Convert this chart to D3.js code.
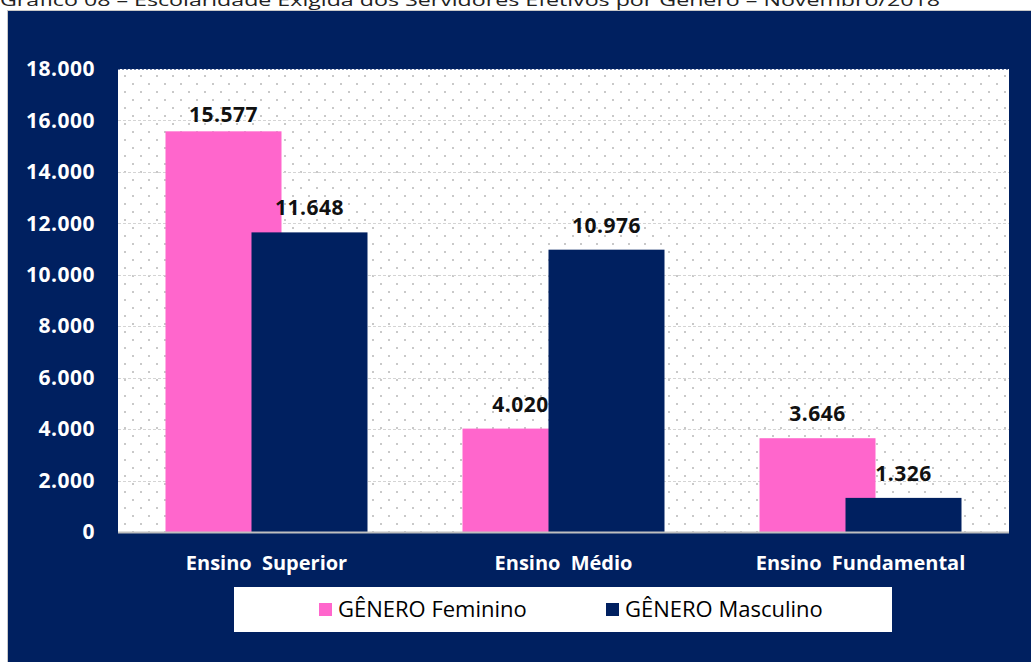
<!DOCTYPE html>
<html>
<head>
<meta charset="utf-8">
<script src="https://cdn.jsdelivr.net/npm/d3@7"></script>
<style>
  body { margin: 0; background: #ffffff; }
  svg text { font-family: "Open Sans", "Noto Sans", sans-serif; }
</style>
</head>
<body>
<div id="chart"></div>
<script>
// chart values
const title = 'Gráfico 08 – Escolaridade Exigida dos Servidores Efetivos por Gênero – Novembro/2018'
const categories = ['Ensino Superior', 'Ensino Médio', 'Ensino Fundamental']
const seriesNames = ['GÊNERO Feminino', 'GÊNERO Masculino']
const feminino = [15577, 4020, 3646]
const masculino = [11648, 10976, 1326]
const yTicks = [0, 2000, 4000, 6000, 8000, 10000, 12000, 14000, 16000, 18000]

const colors = ['#ff66cc', '#002060']
const navy = '#002060'

const svgWidth = 1031
const svgHeight = 662

const plot = { left: 118, right: 1009, top: 69, bottom: 532 }

// brazilian number format: 15.577
const br = d3.formatLocale({ decimal: ',', thousands: '.', grouping: [3], currency: ['R$', ''] })
const fmt = br.format(',d')

const svg = d3.select('#chart')
    .append('svg')
    .attr('width', svgWidth)
    .attr('height', svgHeight)

// dotted fill of the plot area
const defs = svg.append('defs')
const pat = defs.append('pattern')
    .attr('id', 'dots')
    .attr('patternUnits', 'userSpaceOnUse')
    .attr('width', 16)
    .attr('height', 16)
pat.append('rect').attr('width', 16).attr('height', 16).attr('fill', '#ffffff')
pat.append('rect').attr('x', 4).attr('y', 3).attr('width', 2).attr('height', 2).attr('fill', '#c9c9c9')
pat.append('rect').attr('x', 12).attr('y', 11).attr('width', 2).attr('height', 2).attr('fill', '#c9c9c9')

// title, cut off at the top like in the source
svg.append('text')
    .attr('x', 0)
    .attr('y', 6)
    .attr('font-size', 17)
    .attr('fill', '#222')
    .attr('textLength', 940)
    .attr('lengthAdjust', 'spacingAndGlyphs')
    .text(title)

// outer frame
svg.append('rect')
    .attr('x', 7.5)
    .attr('y', 10.5)
    .attr('width', svgWidth)
    .attr('height', svgHeight)
    .attr('fill', navy)
    .attr('stroke', '#c8c8c8')
    .attr('stroke-width', 1)

// plot area
svg.append('rect')
    .attr('x', plot.left)
    .attr('y', plot.top)
    .attr('width', plot.right - plot.left)
    .attr('height', plot.bottom - plot.top)
    .attr('fill', 'url(#dots)')

svg.append('line')
    .attr('x1', plot.left).attr('x2', plot.right)
    .attr('y1', plot.top + 0.5).attr('y2', plot.top + 0.5)
    .attr('stroke', '#7080a8')
    .attr('stroke-dasharray', '2,2')

// scales
const x = d3.scaleBand()
    .domain(categories)
    .range([plot.left, plot.right])
    .padding(0)

const xSeries = d3.scalePoint()
    .domain(seriesNames)
    .range([-43, 43])

const barWidth = 116

const y = d3.scaleLinear()
    .domain([0, 18000])
    .range([plot.bottom, plot.top])

// gridlines
svg.append('g')
    .selectAll('line')
    .data(yTicks.filter(d => d > 0 && d < 18000))
    .enter()
    .append('line')
    .attr('x1', plot.left)
    .attr('x2', plot.right)
    .attr('y1', d => Math.round(y(d)) + 0.5)
    .attr('y2', d => Math.round(y(d)) + 0.5)
    .attr('stroke', '#d4d4d4')
    .attr('stroke-dasharray', '3,2')

// bars
const rows = []
categories.forEach((c, i) => {
    rows.push({ cat: c, series: seriesNames[0], value: feminino[i], color: colors[0] })
})
categories.forEach((c, i) => {
    rows.push({ cat: c, series: seriesNames[1], value: masculino[i], color: colors[1] })
})

svg.append('g')
    .selectAll('rect')
    .data(rows)
    .enter()
    .append('rect')
    .attr('x', d => x(d.cat) + x.bandwidth() / 2 + xSeries(d.series) - barWidth / 2)
    .attr('y', d => y(d.value))
    .attr('width', barWidth)
    .attr('height', d => y(0) - y(d.value))
    .attr('fill', d => d.color)

// value labels
svg.append('g')
    .selectAll('text')
    .data(rows)
    .enter()
    .append('text')
    .attr('x', d => x(d.cat) + x.bandwidth() / 2 + xSeries(d.series))
    .attr('y', d => y(d.value) - (d.value > 15000 ? 16 : 24) + 7)
    .attr('text-anchor', 'middle')
    .attr('font-size', 21)
    .attr('font-weight', 700)
    .attr('letter-spacing', 0.5)
    .attr('fill', '#111')
    .text(d => fmt(d.value))

// axis line at zero
svg.append('line')
    .attr('x1', plot.left).attr('x2', plot.right)
    .attr('y1', plot.bottom + 0.5).attr('y2', plot.bottom + 0.5)
    .attr('stroke', '#bfbfbf')
    .attr('stroke-width', 2)

// y axis
const yAxis = d3.axisLeft(y)
    .tickValues(yTicks)
    .tickSize(0)
    .tickPadding(23)
    .tickFormat(d => fmt(d))

const yG = svg.append('g')
    .attr('transform', `translate(${plot.left}, 0)`)
    .call(yAxis)
yG.select('.domain').remove()
yG.selectAll('text')
    .attr('font-family', '"Open Sans", sans-serif')
    .attr('font-size', 21)
    .attr('font-weight', 700)
    .attr('letter-spacing', 0.5)
    .attr('fill', '#ffffff')

// x axis
const xAxis = d3.axisBottom(x).tickSize(0).tickPadding(24)
const xG = svg.append('g')
    .attr('transform', `translate(0, ${plot.bottom})`)
    .call(xAxis)
xG.select('.domain').remove()
xG.selectAll('text')
    .attr('font-family', '"Open Sans", sans-serif')
    .attr('font-size', 20)
    .attr('font-weight', 700)
    .attr('word-spacing', 5)
    .attr('fill', '#ffffff')

// legend
const legend = svg.append('g')
legend.append('rect')
    .attr('x', 234)
    .attr('y', 587)
    .attr('width', 658)
    .attr('height', 45)
    .attr('fill', '#ffffff')

const legendX = [319, 606]
const items = legend.selectAll('g.item')
    .data(seriesNames)
    .enter()
    .append('g')
    .attr('class', 'item')
    .attr('transform', (d, i) => `translate(${legendX[i]}, 609)`)

items.append('rect')
    .attr('x', 0)
    .attr('y', -6)
    .attr('width', 13)
    .attr('height', 13)
    .attr('fill', (d, i) => colors[i])

items.append('text')
    .attr('x', 19)
    .attr('y', 8)
    .attr('font-size', 22)
    .attr('fill', '#000')
    .text(d => d)
</script>
</body>
</html>
